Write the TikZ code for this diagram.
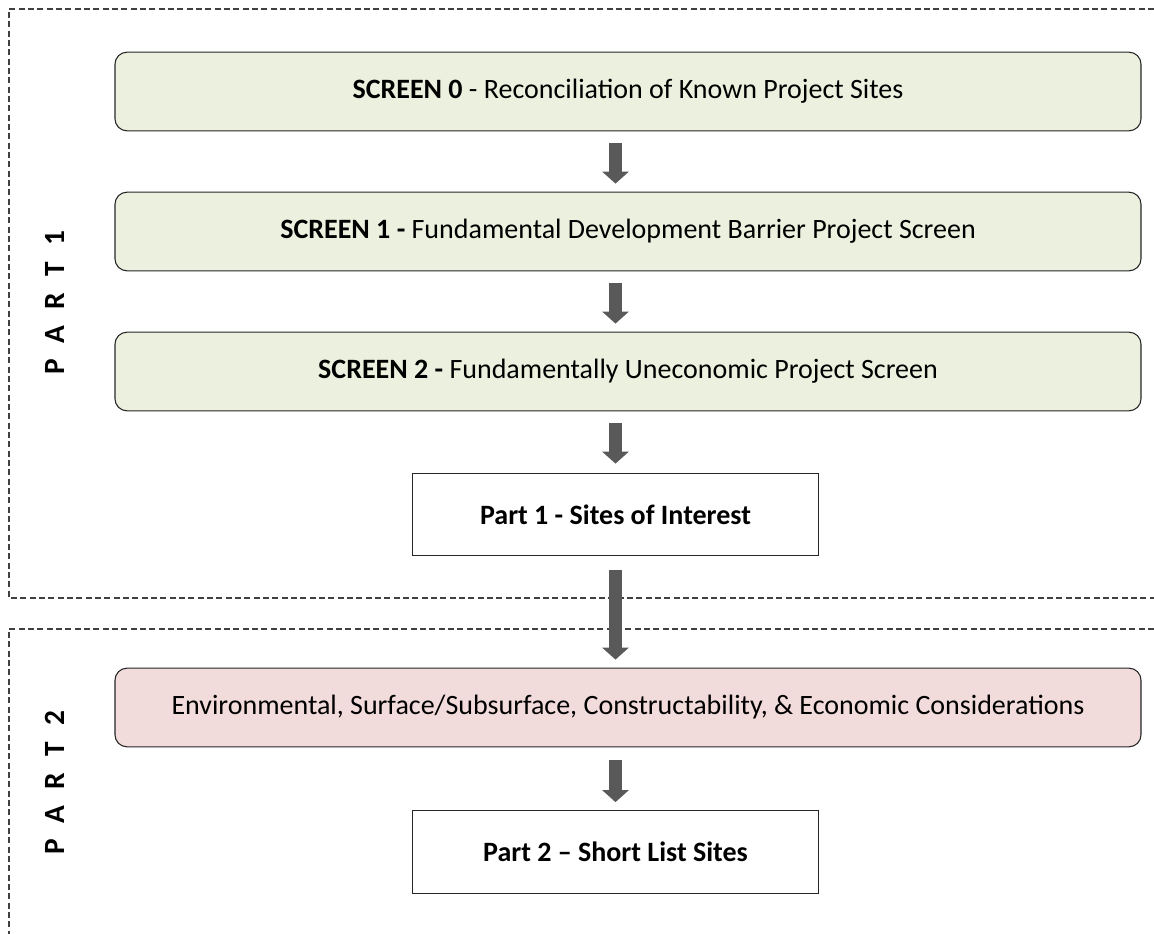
\documentclass[tikz,border=0pt]{standalone}
\usepackage{fontspec}
\setmainfont{Carlito}
\usetikzlibrary{arrows.meta,calc}
\definecolor{grn}{HTML}{EBF1DE}
\definecolor{pnk}{HTML}{F2DCDB}
\definecolor{arr}{HTML}{595959}
\tikzset{
  stage/.style={draw=black!85, line width=0.8pt, rounded corners=9pt, minimum width=769.5pt, minimum height=59pt, inner sep=0pt, font=\fontsize{21}{24}\selectfont},
  result/.style={draw=black!85, line width=0.8pt, minimum width=304pt, minimum height=62pt, inner sep=0pt, font=\fontsize{21}{24}\selectfont\bfseries},
  flow/.style={draw=arr, line width=9.75pt, -{Triangle[length=9pt,width=19.5pt]}},
  region/.style={draw=black!75, line width=0.8pt, dash pattern=on 4.5pt off 2.5pt},
  partlabel/.style={rotate=90, font=\fontsize{22}{26}\selectfont\bfseries}
}
\newcommand{\gp}{\hspace{0.55em}}
\begin{document}
\begin{tikzpicture}[x=0.75pt,y=-0.75pt]
\useasboundingbox (0,0) rectangle (1154,934);
% regions
\draw[region] (1154,9) -- (9,9) -- (9,598) -- (1154,598);
\draw[region] (1154,629) -- (9,629) -- (9,934);
% nodes
\node[stage, fill=grn] (s0) at (628,91.5) {\textbf{SCREEN 0} - Reconciliation of Known Project Sites};
\node[stage, fill=grn] (s1) at (628,231.5) {\textbf{SCREEN 1 -} Fundamental Development Barrier Project Screen};
\node[stage, fill=grn] (s2) at (628,371.5) {\textbf{SCREEN 2 -} Fundamentally Uneconomic Project Screen};
\node[result] (p1) at (615.5,514.5) {Part 1 - Sites of Interest};
\node[stage, fill=pnk] (env) at (628,707.5) {Environmental, Surface/Subsurface, Constructability, \& Economic Considerations};
\node[result] (p2) at (615.5,852) {Part 2 – Short List Sites};
\node[partlabel] (l1) at (55,303) {P\gp A\gp R\gp T\gp 1};
\node[partlabel] (l2) at (55,783) {P\gp A\gp R\gp T\gp 2};
% arrows
\draw[flow] ($(p1 |- s0.south)+(0,12)$) -- ($(p1 |- s1.north)+(0,-8)$);
\draw[flow] ($(p1 |- s1.south)+(0,12)$) -- ($(p1 |- s2.north)+(0,-8)$);
\draw[flow] ($(p1 |- s2.south)+(0,12)$) -- ($(p1.north)+(0,-9)$);
\draw[flow] ($(p1.south)+(0,14)$) -- ($(p1 |- env.north)+(0,-8)$);
\draw[flow] ($(p1 |- env.south)+(0,13)$) -- ($(p2.north)+(0,-8)$);
\end{tikzpicture}
\end{document}
